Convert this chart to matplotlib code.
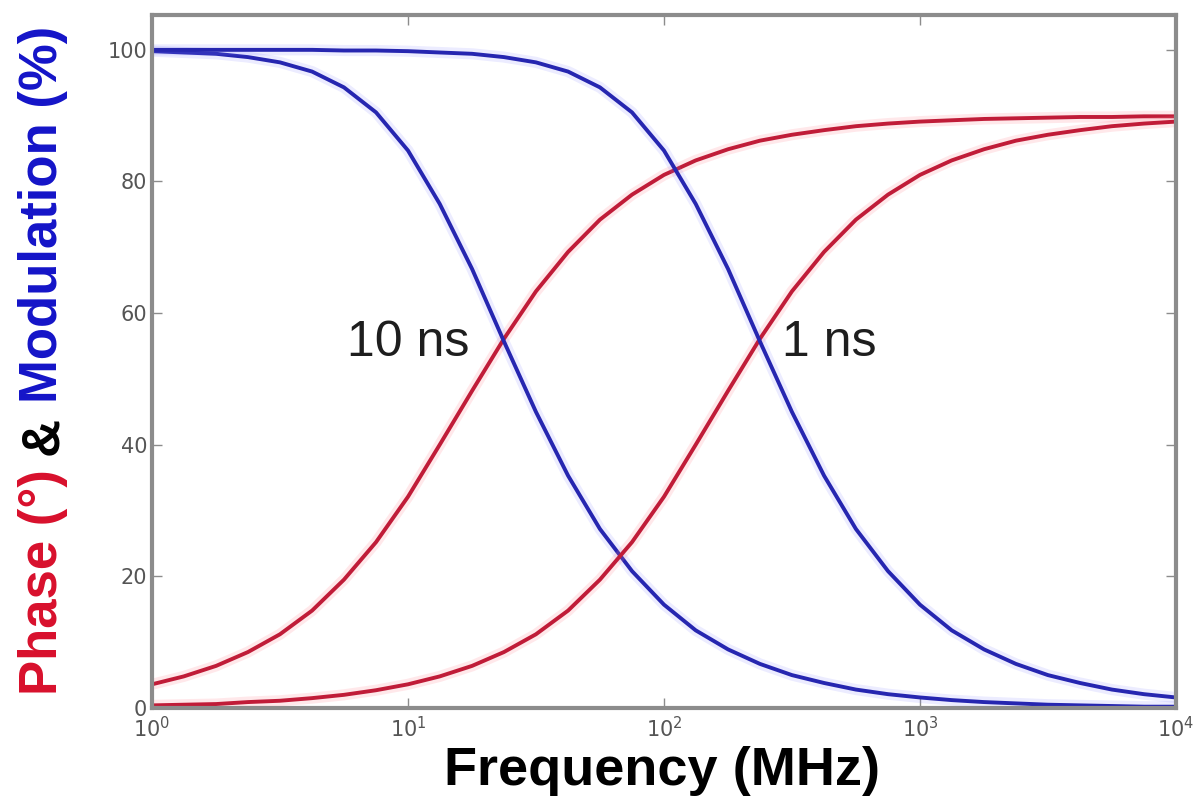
import matplotlib
matplotlib.use("Agg")
import matplotlib.pyplot as plt
from matplotlib.ticker import LogLocator, LogFormatterMathtext, NullLocator

# Frequency grid (MHz) and readings for the two lifetimes
freq_mhz = [1, 1.33, 1.78, 2.37, 3.16, 4.22, 5.62, 7.5,
            10, 13.3, 17.8, 23.7, 31.6, 42.2, 56.2, 75,
            100, 133, 178, 237, 316, 422, 562, 750,
            1000, 1330, 1780, 2370, 3160, 4220, 5620, 7500, 10000]

phase_10ns = [3.6, 4.8, 6.4, 8.5, 11.2, 14.8, 19.5, 25.2,
              32.1, 40.0, 48.2, 56.1, 63.3, 69.3, 74.2, 78.0,
              81.0, 83.2, 84.9, 86.2, 87.1, 87.8, 88.4, 88.8,
              89.1, 89.3, 89.5, 89.6, 89.7, 89.8, 89.8, 89.9, 89.9]
mod_10ns = [99.8, 99.6, 99.4, 98.9, 98.1, 96.7, 94.3, 90.5,
            84.7, 76.6, 66.7, 55.7, 45.0, 35.3, 27.2, 20.8,
            15.7, 11.8, 8.9, 6.7, 5.0, 3.8, 2.8, 2.1,
            1.6, 1.2, 0.9, 0.7, 0.5, 0.4, 0.3, 0.2, 0.2]

phase_1ns = [0.4, 0.5, 0.6, 0.9, 1.1, 1.5, 2.0, 2.7,
             3.6, 4.8, 6.4, 8.5, 11.2, 14.8, 19.5, 25.2,
             32.1, 40.0, 48.2, 56.1, 63.3, 69.3, 74.2, 78.0,
             81.0, 83.2, 84.9, 86.2, 87.1, 87.8, 88.4, 88.8, 89.1]
mod_1ns = [100.0, 100.0, 100.0, 100.0, 100.0, 100.0, 99.9, 99.9,
           99.8, 99.6, 99.4, 98.9, 98.1, 96.7, 94.3, 90.5,
           84.7, 76.6, 66.7, 55.7, 45.0, 35.3, 27.2, 20.8,
           15.7, 11.8, 8.9, 6.7, 5.0, 3.8, 2.8, 2.1, 1.6]

curve_labels = ["10 ns", "1 ns"]
label_pos = [(5.8, 55.5), (290, 55.5)]

RED = "#c01c38"
BLUE = "#2626b0"
GRAY = "#8c8c8c"

fig = plt.figure(figsize=(11.98, 8.05), dpi=100)
ax = fig.add_axes([0.1269, 0.1205, 0.8547, 0.8609])

for ph, md in [(phase_10ns, mod_10ns), (phase_1ns, mod_1ns)]:
    ax.plot(freq_mhz, ph, color="#ff8090", lw=8, alpha=0.18, solid_capstyle="butt")
    ax.plot(freq_mhz, md, color="#8080ff", lw=8, alpha=0.15, solid_capstyle="butt")
    ax.plot(freq_mhz, ph, color=RED, lw=2.8)
    ax.plot(freq_mhz, md, color=BLUE, lw=2.8)

ax.set_xscale("log")
ax.set_xlim(1, 1e4)
ax.set_ylim(0, 105.3)
ax.xaxis.set_major_locator(LogLocator(base=10, numticks=10))
ax.xaxis.set_major_formatter(LogFormatterMathtext())
ax.xaxis.set_minor_locator(NullLocator())
ax.set_yticks([0, 20, 40, 60, 80, 100])

for s in ax.spines.values():
    s.set_color(GRAY)
    s.set_linewidth(3)

ax.tick_params(axis="both", which="major", direction="in", length=7, width=1,
               color=GRAY, labelcolor="#555555", labelsize=15,
               top=True, right=True)
ax.tick_params(axis="x", pad=6)

for txt, (fx, fy) in zip(curve_labels, label_pos):
    ax.text(fx, fy, txt, fontsize=36, family=["Liberation Sans", "DejaVu Sans"],
            color="#1e1e1e", ha="left", va="center")

# x-axis title
fig.text(0.553, 0.042, "Frequency (MHz)", ha="center", va="center",
         fontsize=39, fontweight="bold",
         family=["Liberation Sans", "DejaVu Sans"],
         color="black")

# multi-coloured y-axis title, built piece by piece along the baseline
fig.canvas.draw()
renderer = fig.canvas.get_renderer()
pieces = [("Phase (\u00b0)", "#d8102c"), ("&", "black"), ("Modulation (%)", "#1414c8")]
base_x = 57 / 1198
y0 = 110 / 805
gap = 14 / 805
for txt, col in pieces:
    t = fig.text(base_x, y0, txt, rotation=90, rotation_mode="anchor",
                 ha="left", va="baseline", fontsize=38, fontweight="bold",
                 family=["Liberation Sans", "DejaVu Sans"], color=col)
    bb = t.get_window_extent(renderer=renderer)
    y0 = bb.y1 / fig.bbox.height + gap

fig.savefig("out.png", dpi=100)
